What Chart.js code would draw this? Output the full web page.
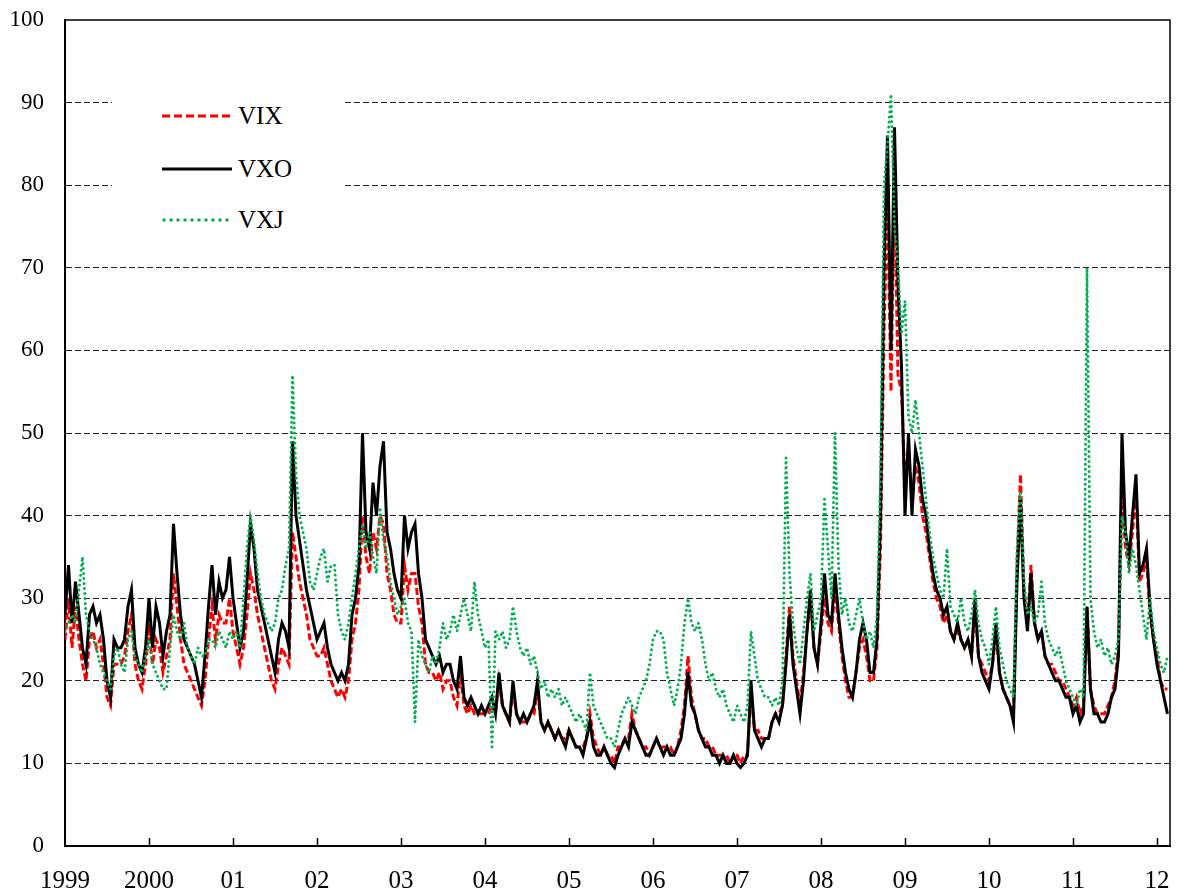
<!DOCTYPE html>
<html>
<head>
<meta charset="utf-8">
<title>VIX VXO VXJ</title>
<script src="https://cdn.jsdelivr.net/npm/chart.js@4.4.1/dist/chart.umd.min.js"></script>
<style>
  body { margin: 0; background: #fff; }
  #wrap { position: relative; width: 1178px; height: 894px; }
  #legend {
    position: absolute; left: 112px; top: 92px; width: 230px; height: 152px;
    background: #fff; font-family: "Liberation Serif", "Times New Roman", serif;
    font-size: 25px; color: #000;
  }
  #legend .row { position: absolute; left: 50px; height: 30px; display: flex; align-items: center; white-space: nowrap; }
  #legend svg { margin-right: 6px; }
</style>
</head>
<body>
<div id="wrap">
  <canvas id="volChart" width="1178" height="894"></canvas>
  <div id="legend">
    <div class="row" style="top:9px">
      <svg width="70" height="6"><line x1="0" y1="3" x2="70" y2="3" stroke="#ff0000" stroke-width="3" stroke-dasharray="8 4"/></svg>VIX
    </div>
    <div class="row" style="top:62px">
      <svg width="70" height="6"><line x1="0" y1="3" x2="70" y2="3" stroke="#000" stroke-width="3"/></svg>VXO
    </div>
    <div class="row" style="top:113px">
      <svg width="70" height="6"><line x1="2" y1="3" x2="70" y2="3" stroke="#00b050" stroke-width="3.5" stroke-linecap="round" stroke-dasharray="0 7"/></svg>VXJ
    </div>
  </div>
</div>
<script>
// half-monthly readings, starting Jan 1999
var startYear = 1999;
var perYear = 24;

var vix = [
  25, 30, 24, 29, 25, 22, 20, 25, 26, 24, 25, 22, 18, 17, 22, 22, 22, 23, 26, 28, 22, 20, 19, 22, // 1999
  26, 22, 25, 24, 21, 23, 25, 33, 29, 25, 22, 21, 20, 19, 18, 17, 20, 25, 29, 25, 28, 27, 27, 30, // 2000
  26, 24, 22, 24, 28, 33, 31, 28, 26, 24, 22, 20, 19, 22, 24, 23, 22, 38, 35, 32, 30, 28, 25, 24, // 2001
  23, 23, 24, 22, 20, 19, 18, 19, 18, 20, 25, 27, 31, 40, 35, 33, 38, 36, 40, 39, 33, 31, 28, 27, // 2002
  27, 34, 31, 33, 33, 29, 27, 22, 21, 21, 20, 21, 19, 20, 20, 18, 17, 21, 17, 16, 17, 16, 16, 16, // 2003
  16, 16, 17, 16, 20, 17, 16, 15, 19, 16, 15, 15, 15, 16, 16, 19, 15, 14, 15, 14, 13, 14, 13, 13, // 2004
  14, 13, 12, 12, 12, 13, 16, 13, 12, 11, 12, 11, 11, 10, 12, 12, 13, 13, 16, 14, 13, 12, 12, 11, // 2005
  12, 13, 12, 12, 12, 12, 11, 12, 14, 17, 23, 18, 16, 14, 13, 13, 12, 12, 11, 11, 11, 11, 10, 11, // 2006
  11, 10, 11, 11, 19, 14, 14, 13, 13, 13, 15, 16, 16, 17, 23, 29, 23, 20, 17, 21, 26, 30, 24, 22, // 2007
  26, 30, 27, 26, 31, 27, 23, 20, 18, 18, 21, 24, 25, 23, 20, 20, 24, 36, 62, 78, 55, 80, 57, 55, // 2008
  44, 48, 42, 46, 44, 40, 38, 35, 32, 30, 29, 27, 28, 26, 25, 26, 25, 24, 25, 23, 29, 23, 22, 21, // 2009
  20, 22, 26, 21, 19, 18, 17, 16, 34, 45, 31, 27, 34, 27, 25, 26, 23, 22, 22, 21, 20, 20, 19, 18, // 2010
  17, 18, 16, 17, 29, 19, 17, 16, 16, 16, 17, 18, 20, 24, 43, 36, 34, 38, 43, 32, 33, 35, 28, 25, // 2011
  23, 20, 19, 19                                                                                  // 2012
];

var vxo = [
  28, 34, 27, 32, 28, 24, 22, 28, 29, 27, 28, 25, 20, 18, 25, 24, 24, 25, 29, 31, 24, 22, 21, 24, // 1999
  30, 24, 29, 27, 23, 26, 28, 39, 33, 28, 25, 24, 23, 22, 20, 18, 23, 29, 34, 28, 32, 30, 31, 35, // 2000
  30, 27, 24, 26, 32, 39, 36, 31, 29, 27, 25, 23, 21, 25, 27, 26, 24, 49, 40, 37, 34, 31, 29, 27, // 2001
  25, 26, 27, 24, 22, 21, 20, 21, 20, 22, 28, 30, 34, 50, 38, 36, 44, 40, 46, 49, 38, 36, 33, 31, // 2002
  30, 40, 36, 38, 39, 33, 30, 25, 24, 23, 22, 23, 21, 22, 22, 20, 19, 23, 18, 17, 18, 17, 16, 17, // 2003
  16, 17, 18, 16, 21, 17, 16, 15, 20, 16, 15, 16, 15, 16, 17, 20, 15, 14, 15, 14, 13, 14, 13, 12, // 2004
  14, 13, 12, 12, 11, 13, 15, 12, 11, 11, 12, 11, 10, 9.5, 11, 12, 13, 12, 15, 14, 13, 12, 11, 11, // 2005
  12, 13, 12, 11, 12, 11, 11, 12, 13, 16, 21, 17, 16, 14, 13, 12, 12, 11, 11, 10, 11, 10, 10, 11, // 2006
  10, 9.5, 10, 11, 20, 14, 13, 12, 13, 13, 15, 16, 15, 17, 22, 28, 22, 19, 16, 20, 26, 31, 24, 22, // 2007
  27, 33, 28, 27, 33, 28, 24, 21, 19, 18, 21, 25, 27, 25, 21, 21, 25, 40, 70, 86, 60, 87, 68, 58, // 2008
  40, 50, 40, 48, 46, 42, 40, 36, 33, 31, 30, 28, 29, 26, 25, 27, 25, 24, 25, 23, 30, 23, 21, 20, // 2009
  19, 22, 27, 21, 19, 18, 17, 15, 32, 42, 30, 26, 33, 27, 25, 26, 23, 22, 21, 20, 20, 19, 18, 18, // 2010
  16, 17, 15, 16, 29, 19, 16, 16, 15, 15, 16, 18, 19, 23, 50, 38, 35, 40, 45, 33, 34, 36, 29, 25, // 2011
  22, 20, 18, 16                                                                                  // 2012
];

var vxj = [
  26, 27, 28, 27, 31, 35, 28, 26, 25, 24, 22, 21, 20, 19, 23, 24, 22, 21, 25, 26, 23, 22, 21, 23, // 1999
  25, 22, 21, 20, 19, 19, 24, 28, 26, 25, 27, 24, 23, 22, 24, 23, 23, 25, 25, 24, 26, 25, 24, 26, // 2000
  25, 26, 24, 30, 36, 40, 37, 33, 30, 28, 27, 26, 27, 30, 31, 34, 36, 57, 45, 40, 38, 36, 32, 31, // 2001
  33, 35, 36, 32, 34, 34, 28, 26, 25, 27, 30, 33, 36, 39, 36, 38, 35, 33, 41, 37, 35, 32, 30, 28, // 2002
  29, 30, 27, 26, 15, 25, 23, 22, 21, 23, 22, 24, 27, 25, 26, 28, 26, 28, 30, 28, 26, 32, 28, 26, // 2003
  24, 25, 12, 26, 25, 26, 24, 25, 29, 26, 24, 23, 24, 22, 23, 21, 19, 20, 18, 19, 18, 19, 17, 18, // 2004
  17, 16, 15, 16, 15, 14, 21, 17, 16, 15, 14, 13, 13, 12, 14, 16, 17, 18, 17, 16, 18, 19, 20, 22, // 2005
  25, 26, 26, 25, 21, 19, 17, 19, 22, 27, 30, 27, 26, 27, 25, 22, 20, 21, 19, 18, 19, 17, 16, 15, // 2006
  17, 16, 15, 17, 26, 23, 20, 19, 18, 18, 17, 18, 17, 20, 47, 33, 27, 24, 22, 26, 30, 33, 26, 28, // 2007
  30, 42, 36, 30, 50, 34, 28, 30, 27, 26, 28, 30, 27, 25, 26, 24, 28, 45, 80, 85, 91, 75, 70, 62, // 2008
  66, 52, 50, 54, 50, 46, 42, 38, 35, 33, 31, 30, 36, 29, 28, 27, 30, 27, 26, 28, 31, 27, 25, 24, // 2009
  22, 25, 29, 24, 22, 20, 19, 18, 36, 43, 32, 28, 29, 27, 28, 32, 27, 25, 24, 23, 24, 22, 20, 19, // 2010
  18, 17, 19, 18, 70, 30, 26, 24, 25, 23, 24, 22, 23, 25, 40, 38, 33, 36, 34, 31, 28, 25, 30, 26, // 2011
  24, 22, 21, 23                                                                                  // 2012
];

var yearTicks = [1999, 2000, 2001, 2002, 2003, 2004, 2005, 2006, 2007, 2008, 2009, 2010, 2011, 2012];
var yearLabels = ['1999', '2000', '01', '02', '03', '04', '05', '06', '07', '08', '09', '10', '11', '12'];

var serif = "'Liberation Serif', 'Times New Roman', serif";

function toPoints(values) {
  return values.map(function (v, i) { return { x: startYear + i / perYear, y: v }; });
}

// top/right frame and the inward year ticks
var framePlugin = {
  id: 'frame',
  afterDraw: function (chart) {
    var ctx = chart.ctx, a = chart.chartArea, xs = chart.scales.x;
    ctx.save();
    ctx.strokeStyle = '#000';
    ctx.lineWidth = 1.5;
    ctx.beginPath();
    ctx.moveTo(a.left, a.top);
    ctx.lineTo(a.right, a.top);
    ctx.lineTo(a.right, a.bottom);
    yearTicks.forEach(function (v) {
      if (v === startYear) return;
      var px = Math.round(xs.getPixelForValue(v)) + 0.5;
      ctx.moveTo(px, a.bottom);
      ctx.lineTo(px, a.bottom - 8);
    });
    ctx.stroke();
    ctx.restore();
  }
};

document.addEventListener("DOMContentLoaded", function () {
  var ctx = document.getElementById('volChart').getContext('2d');
  new Chart(ctx, {
    type: 'line',
    data: {
      datasets: [{
        label: 'VXJ',
        data: toPoints(vxj),
        borderColor: '#00b050',
        borderWidth: 3,
        borderDash: [0, 5],
        borderCapStyle: 'round',
        pointRadius: 0,
        order: 0
      }, {
        label: 'VXO',
        data: toPoints(vxo),
        borderColor: '#000000',
        borderWidth: 3,
        pointRadius: 0,
        order: 1
      }, {
        label: 'VIX',
        data: toPoints(vix),
        borderColor: '#ff0000',
        borderWidth: 3,
        borderDash: [7, 3],
        pointRadius: 0,
        order: 2
      }]
    },
    options: {
      responsive: false,
      animation: false,
      devicePixelRatio: 1,
      layout: { padding: { top: 20, right: 8, left: 0, bottom: 0 } },
      elements: { line: { tension: 0 } },
      scales: {
        x: {
          type: 'linear',
          min: 1999,
          max: 2012.155,
          afterBuildTicks: function (s) { s.ticks = yearTicks.map(function (v) { return { value: v }; }); },
          afterFit: function (s) { s.height = 48; s.paddingLeft = 0; s.paddingRight = 0; },
          ticks: {
            autoSkip: false,
            maxRotation: 0,
            padding: 12,
            color: '#000',
            font: { family: serif, size: 25 },
            callback: function (v) { return yearLabels[yearTicks.indexOf(v)]; }
          },
          grid: { display: false },
          border: { color: '#000', width: 2 }
        },
        y: {
          min: 0,
          max: 100,
          afterFit: function (s) { s.width = 65; s.paddingTop = 0; s.paddingBottom = 0; },
          ticks: {
            stepSize: 10,
            padding: 21,
            color: '#000',
            font: { family: serif, size: 23 }
          },
          grid: {
            drawTicks: false,
            lineWidth: 1,
            color: function (c) {
              return (c.tick && (c.tick.value === 0 || c.tick.value === 100)) ? 'rgba(0,0,0,0)' : '#222';
            }
          },
          border: { color: '#000', width: 2, dash: [6, 3] }
        }
      },
      plugins: {
        legend: { display: false },
        tooltip: { enabled: false }
      }
    },
    plugins: [framePlugin]
  });
});
</script>
</body>
</html>
